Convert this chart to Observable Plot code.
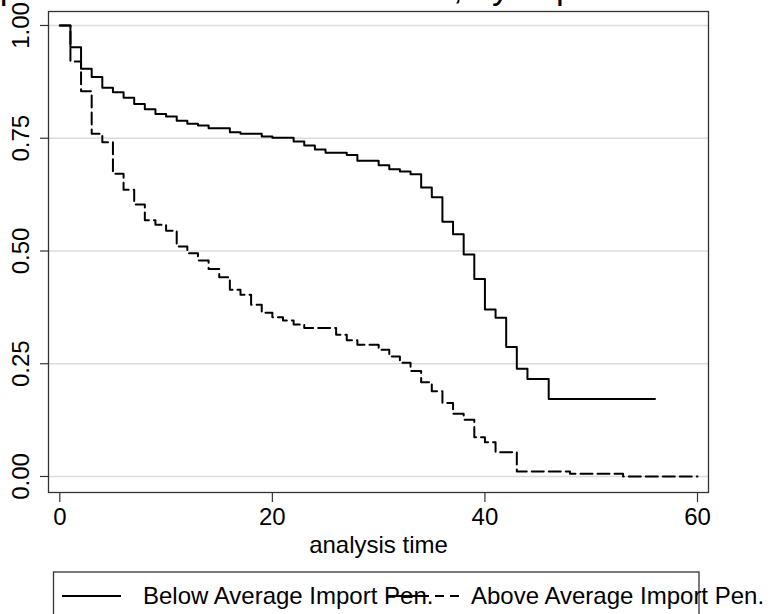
<!DOCTYPE html>
<html>
<head>
<meta charset="utf-8">
<script src="https://cdn.jsdelivr.net/npm/d3@7"></script>
<script src="https://cdn.jsdelivr.net/npm/@observablehq/plot@0.6"></script>
<style>
  html, body { margin: 0; padding: 0; background: white; }
</style>
</head>
<body>
<div id="chart"></div>
<script>
// Kaplan-Meier step estimates
const belowTimes = [0,1,2,3,4,5,6,7,8,9,10,11,12,13,14,16,17,19,20,22,23,24,25,27,28,30,31,32,33,34,35,36,37,38,39,40,41,42,43,44,46,56];
const belowSurv  = [1.000,0.952,0.904,0.886,0.862,0.852,0.840,0.826,0.814,0.804,0.798,0.789,0.782,0.778,0.772,0.763,0.760,0.754,0.751,0.743,0.734,0.725,0.718,0.713,0.700,0.690,0.681,0.676,0.670,0.641,0.619,0.565,0.537,0.492,0.438,0.370,0.352,0.287,0.239,0.216,0.172,0.172];
const aboveTimes = [0,1,2,3,4,5,6,7,8,9,10,11,12,13,14,15,16,17,18,19,20,21,22,23,26,27,28,30,31,32,33,34,35,36,37,38,39,40,41,43,48,53,60];
const aboveSurv  = [1.000,0.920,0.854,0.760,0.741,0.671,0.636,0.603,0.568,0.558,0.545,0.510,0.495,0.479,0.460,0.442,0.414,0.403,0.381,0.363,0.353,0.346,0.337,0.329,0.314,0.302,0.292,0.281,0.266,0.252,0.234,0.209,0.189,0.163,0.139,0.126,0.087,0.076,0.054,0.011,0.006,0.000,0.000];
const seriesNames = ["Below Average Import Pen.", "Above Average Import Pen."];
const xTicks = [0, 20, 40, 60];
const yTicks = [0, 0.25, 0.5, 0.75, 1];
const xLabel = "analysis time";
const titleText = "Kaplan-Meier survival estimates, by imp";

const below = belowTimes.map((t, i) => ({t, s: belowSurv[i]}));
const above = aboveTimes.map((t, i) => ({t, s: aboveSurv[i]}));

const FONT = "'Liberation Sans', Arial, Helvetica, sans-serif";
const FS = 24;
const dash = "12,5";

const plot = Plot.plot({
  width: 777,
  height: 614,
  marginLeft: 48,
  marginRight: 69,
  marginTop: 11,
  marginBottom: 122,
  x: {domain: [-1.063, 61.035], axis: null},
  y: {domain: [-0.0355, 1.031], axis: null},
  style: {fontFamily: FONT, background: "white", color: "black", overflow: "hidden"},
  marks: [
    Plot.gridY(yTicks, {stroke: "#dcdcdc", strokeOpacity: 1, strokeWidth: 1.5}),
    Plot.axisY(yTicks, {tickSize: 8, tickFormat: () => "", stroke: "#333", strokeWidth: 1.2, label: null}),
    Plot.axisX(xTicks, {tickSize: 10, tickFormat: () => "", stroke: "#333", strokeWidth: 1.2, label: null}),
    Plot.text(yTicks, {y: d => d, text: d => d.toFixed(2), frameAnchor: "left", dx: -27, rotate: -90, textAnchor: "middle", lineAnchor: "middle", fontSize: FS, fill: "black"}),
    Plot.text(xTicks, {x: d => d, text: d => String(d), frameAnchor: "bottom", dy: 32, textAnchor: "middle", fontSize: FS, fill: "black"}),
    Plot.text([xLabel], {text: d => d, frameAnchor: "bottom", dy: 60, textAnchor: "middle", fontSize: FS, fill: "black"}),
    Plot.line(below, {x: "t", y: "s", curve: "step-after", stroke: "black", strokeWidth: 2}),
    Plot.line(above, {x: "t", y: "s", curve: "step-after", stroke: "black", strokeWidth: 2, strokeDasharray: dash}),
    Plot.frame({stroke: "#333", strokeWidth: 1.3})
  ]
});

document.getElementById("chart").appendChild(plot);

const svg = d3.select(plot);
// partially visible title at the top edge
svg.append("text")
  .attr("x", -43).attr("y", -1.5)
  .attr("text-anchor", "start")
  .attr("font-family", FONT).attr("font-size", 35)
  .attr("fill", "black")
  .text(titleText);

// legend box
const lg = svg.append("g").attr("font-family", FONT).attr("font-size", FS).attr("fill", "black").attr("text-anchor", "start");
lg.append("rect").attr("x", 53.5).attr("y", 572).attr("width", 645.5).attr("height", 80)
  .attr("fill", "none").attr("stroke", "#333").attr("stroke-width", 1.3);
lg.append("line").attr("x1", 62).attr("x2", 121).attr("y1", 596).attr("y2", 596)
  .attr("stroke", "black").attr("stroke-width", 2);
lg.append("text").attr("x", 143).attr("y", 604).attr("text-anchor", "start").text(seriesNames[0]);
lg.append("line").attr("x1", 387).attr("x2", 459).attr("y1", 596).attr("y2", 596)
  .attr("stroke", "black").attr("stroke-width", 2).attr("stroke-dasharray", "42,6,9,6,9");
lg.append("text").attr("x", 471).attr("y", 604).attr("text-anchor", "start").text(seriesNames[1]);
</script>
</body>
</html>
